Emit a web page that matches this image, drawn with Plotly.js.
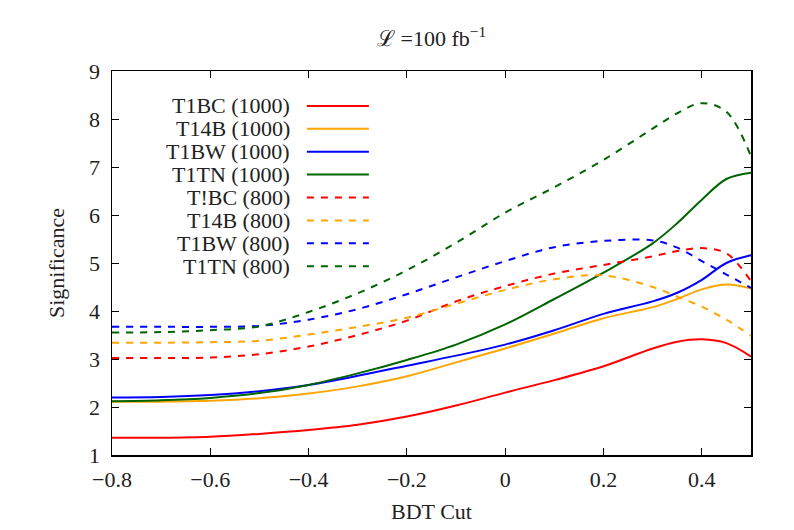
<!DOCTYPE html>
<html>
<head>
<meta charset="utf-8">
<script src="https://cdn.plot.ly/plotly-3.0.1.min.js"></script>
<style>html,body{margin:0;padding:0;background:#fff;} #chart{width:794px;height:530px;}</style>
</head>
<body>
<div id="chart"></div>
<script>
// BDT cut values (x)
const bdtCut = [-0.8, -0.7, -0.6, -0.5, -0.4, -0.3, -0.2, -0.1, 0.0, 0.1, 0.2, 0.3, 0.35, 0.4, 0.45, 0.5];

// Significance series
const t1bc1000 = [1.36, 1.36, 1.38, 1.44, 1.52, 1.63, 1.80, 2.03, 2.30, 2.56, 2.85, 3.22, 3.36, 3.41, 3.33, 3.05];
const t14b1000 = [2.11, 2.11, 2.13, 2.18, 2.28, 2.43, 2.64, 2.93, 3.22, 3.53, 3.85, 4.08, 4.25, 4.45, 4.55, 4.47];
const t1bw1000 = [2.20, 2.21, 2.25, 2.33, 2.46, 2.65, 2.86, 3.07, 3.30, 3.60, 3.94, 4.20, 4.38, 4.65, 5.00, 5.16];
const t1tn1000 = [2.12, 2.14, 2.19, 2.29, 2.46, 2.70, 2.98, 3.30, 3.72, 4.25, 4.80, 5.41, 5.83, 6.32, 6.75, 6.88];
const t1bc800  = [3.02, 3.02, 3.03, 3.10, 3.26, 3.50, 3.80, 4.20, 4.52, 4.78, 4.96, 5.14, 5.25, 5.31, 5.20, 4.62];
const t14b800  = [3.34, 3.34, 3.35, 3.38, 3.51, 3.67, 3.86, 4.15, 4.44, 4.66, 4.74, 4.50, 4.30, 4.09, 3.82, 3.48];
const t1bw800  = [3.67, 3.67, 3.67, 3.69, 3.82, 4.04, 4.35, 4.70, 5.04, 5.33, 5.46, 5.47, 5.32, 5.04, 4.76, 4.48];
const t1tn800  = [3.55, 3.56, 3.60, 3.68, 3.98, 4.37, 4.85, 5.42, 6.05, 6.58, 7.15, 7.80, 8.12, 8.33, 8.15, 7.22];

const seriesNames = ["T1BC (1000)", "T14B (1000)", "T1BW (1000)", "T1TN (1000)",
                     "T!BC (800)", "T14B (800)", "T1BW (800)", "T1TN (800)"];
const seriesValues = [t1bc1000, t14b1000, t1bw1000, t1tn1000, t1bc800, t14b800, t1bw800, t1tn800];
const seriesColors = ["#ff0000", "#ffa500", "#0000ff", "#006400", "#ff0000", "#ffa500", "#0000ff", "#006400"];
const seriesDash = ["solid", "solid", "solid", "solid", "7px,7px", "7px,7px", "7px,7px", "7px,7px"];

const FONT = "'Liberation Serif', 'DejaVu Serif', serif";

const traces = seriesNames.map((n, i) => ({
  type: "scatter", mode: "lines", name: n,
  x: bdtCut, y: seriesValues[i],
  line: {color: seriesColors[i], width: 2, dash: seriesDash[i], shape: "spline", smoothing: 1.0},
  showlegend: false, hoverinfo: "skip"
}));

// Manual gnuplot-style key (text right, sample line after)
const annotations = [];
const shapes = [];
const keyTop = 0.909, keyStep = 0.0596;
seriesNames.forEach((n, i) => {
  const yy = keyTop - i * keyStep;
  annotations.push({
    xref: "paper", yref: "paper", x: 0.2817, y: yy, xanchor: "right", yanchor: "middle",
    text: n, showarrow: false, font: {family: FONT, size: 22, color: "#222"}
  });
  shapes.push({
    type: "line", xref: "paper", yref: "paper", x0: 0.305, x1: 0.402, y0: yy, y1: yy,
    line: {color: seriesColors[i], width: 2, dash: seriesDash[i]}
  });
});

const axisCommon = {
  showline: true, linecolor: "#000", linewidth: 1.5, mirror: "allticks",
  ticks: "inside", ticklen: 7, tickwidth: 1, tickcolor: "#000",
  showgrid: false, zeroline: false,
  tickfont: {family: FONT, size: 22, color: "#222"}
};

const layout = {
  width: 794, height: 530,
  margin: {l: 112, r: 43, t: 71, b: 75},
  paper_bgcolor: "#fff", plot_bgcolor: "#fff",
  font: {family: FONT, size: 22, color: "#222"},
  title: {text: "ℒ =100 fb<sup>−1</sup>", x: 0.5435, xanchor: "center", y: 0.928, yanchor: "middle",
          font: {family: FONT, size: 22, color: "#222"}},
  xaxis: Object.assign({}, axisCommon, {
    range: [-0.8, 0.5], tick0: 0, dtick: 0.2,
    ticklabelstandoff: 4,
    title: {text: "BDT Cut", standoff: 12, font: {family: FONT, size: 22, color: "#222"}}
  }),
  yaxis: Object.assign({}, axisCommon, {
    range: [1, 9], dtick: 1,
    ticklabelstandoff: 6,
    title: {text: "Significance", standoff: 18, font: {family: FONT, size: 22, color: "#222"}}
  }),
  annotations: annotations,
  shapes: shapes,
  showlegend: false
};

Plotly.newPlot("chart", traces, layout, {staticPlot: true, displayModeBar: false});
</script>
</body>
</html>
